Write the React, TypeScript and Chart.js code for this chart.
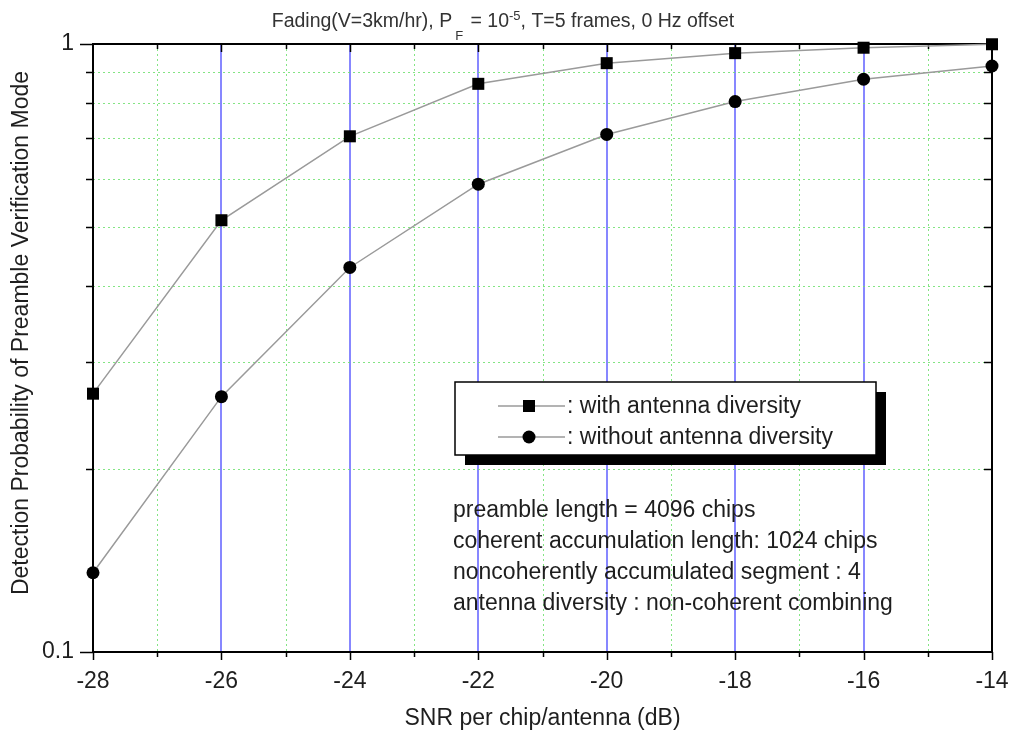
import React, { useEffect, useRef } from 'react';
import { Chart, registerables } from 'chart.js';

Chart.register(...registerables);

// ---- data ----
const snrDb = [-28, -26, -24, -22, -20, -18, -16, -14];
const withDiversity = [0.266, 0.513, 0.705, 0.86, 0.93, 0.966, 0.986, 0.999];
const withoutDiversity = [0.135, 0.263, 0.429, 0.588, 0.71, 0.804, 0.875, 0.92];
const yTickValues = [0.1, 0.2, 0.3, 0.4, 0.5, 0.6, 0.7, 0.8, 0.9, 1];
const seriesLabels = [': with antenna diversity', ': without antenna diversity'];
const noteLines = [
  'preamble length = 4096 chips',
  'coherent accumulation length: 1024 chips',
  'noncoherently accumulated segment : 4',
  'antenna diversity : non-coherent combining',
];
const xTitle = 'SNR per chip/antenna (dB)';
const yTitle = 'Detection Probability of Preamble Verification Mode';
const titleParts = [
  { t: 'Fading(V=3km/hr), P', small: false, dy: 0, gapAfter: 3 },
  { t: 'F', small: true, dy: 13, gapAfter: 2 },
  { t: ' = 10', small: false, dy: 0, gapAfter: 0 },
  { t: '-5', small: true, dy: -7, gapAfter: 0 },
  { t: ', T=5 frames, 0 Hz offset', small: false, dy: 0, gapAfter: 0 },
];
const xMin = -28;
const xMax = -14;
const yMin = 0.1;
const yMax = 1;

const FONT = "'Liberation Sans', Arial, Helvetica, sans-serif";
const BLUE = 'rgb(95,95,255)';
const GREEN = 'rgba(110,225,110,0.85)';
const LINE_GRAY = '#9a9a9a';
const TEXT = '#1e1e1e';

function seg(ctx: CanvasRenderingContext2D, x1: number, y1: number, x2: number, y2: number) {
  ctx.beginPath();
  ctx.moveTo(x1, y1);
  ctx.lineTo(x2, y2);
  ctx.stroke();
}

const isMajorY = (v: number) => Math.abs(v - 1) < 1e-9 || Math.abs(v - 0.1) < 1e-9;

const decorPlugin = {
  id: 'decor',
  beforeDatasetsDraw(chart: any) {
    const { ctx, chartArea: a, scales } = chart;
    const xs = scales.x;
    const ys = scales.y;
    ctx.save();
    // vertical grid: blue solid at even, green dotted at odd
    for (let v = xMin + 1; v < xMax; v++) {
      if (v % 2 === 0) {
        const px = Math.round(xs.getPixelForValue(v));
        ctx.strokeStyle = BLUE;
        ctx.lineWidth = 1.5;
        ctx.setLineDash([]);
        seg(ctx, px, a.top, px, a.bottom);
      } else {
        const px = Math.round(xs.getPixelForValue(v)) + 0.5;
        ctx.strokeStyle = GREEN;
        ctx.lineWidth = 1;
        ctx.setLineDash([2, 3]);
        seg(ctx, px, a.top, px, a.bottom);
      }
    }
    // horizontal dotted grid
    ctx.strokeStyle = GREEN;
    ctx.lineWidth = 1;
    ctx.setLineDash([2, 3]);
    for (const t of ys.ticks) {
      if (isMajorY(t.value)) continue;
      const py = Math.round(ys.getPixelForValue(t.value)) + 0.5;
      seg(ctx, a.left, py, a.right, py);
    }
    ctx.setLineDash([]);
    // frame
    ctx.strokeStyle = '#000';
    ctx.lineWidth = 2;
    ctx.strokeRect(a.left, a.top, a.right - a.left, a.bottom - a.top);
    // x ticks (bottom outward, top inward)
    ctx.lineWidth = 1.5;
    for (let v = xMin; v <= xMax; v++) {
      const major = v % 2 === 0;
      const px = Math.round(xs.getPixelForValue(v)) + 0.5;
      seg(ctx, px, a.bottom, px, a.bottom + (major ? 8 : 5));
      if (v > xMin && v < xMax) seg(ctx, px, a.top, px, a.top + (major ? 8 : 5));
    }
    // y ticks (left outward, right inward)
    for (const t of ys.ticks) {
      const major = isMajorY(t.value);
      const py = Math.round(ys.getPixelForValue(t.value)) + 0.5;
      seg(ctx, a.left - (major ? 13 : 7), py, a.left, py);
      if (!major) seg(ctx, a.right - 8, py, a.right, py);
    }
    ctx.restore();
  },
  afterDraw(chart: any) {
    const { ctx, chartArea: a } = chart;
    ctx.save();
    // legend box with shadow
    const bx = 455, by = 382, bw = 421, bh = 73, sh = 10;
    ctx.fillStyle = '#000';
    ctx.fillRect(bx + sh, by + sh, bw, bh);
    ctx.fillStyle = '#fff';
    ctx.fillRect(bx, by, bw, bh);
    ctx.strokeStyle = '#000';
    ctx.lineWidth = 1.5;
    ctx.strokeRect(bx, by, bw, bh);
    const rows = [406, 437];
    rows.forEach((ry, i) => {
      ctx.strokeStyle = LINE_GRAY;
      ctx.lineWidth = 1.5;
      seg(ctx, 498, ry, 565, ry);
      ctx.fillStyle = '#000';
      if (i === 0) {
        ctx.fillRect(523, ry - 6, 12, 12);
      } else {
        ctx.beginPath();
        ctx.arc(529, ry, 6.5, 0, Math.PI * 2);
        ctx.fill();
      }
      ctx.fillStyle = TEXT;
      ctx.font = `23px ${FONT}`;
      ctx.textBaseline = 'middle';
      ctx.textAlign = 'left';
      ctx.fillText(seriesLabels[i], 567, ry + 1);
    });
    // notes
    ctx.fillStyle = TEXT;
    ctx.font = `23px ${FONT}`;
    ctx.textBaseline = 'middle';
    noteLines.forEach((s, i) => ctx.fillText(s, 453, 511 + i * 31));
    // title
    ctx.fillStyle = '#333';
    ctx.textBaseline = 'alphabetic';
    let total = 0;
    const widths = titleParts.map((p) => {
      ctx.font = `${p.small ? 13 : 19.5}px ${FONT}`;
      const w = ctx.measureText(p.t).width + p.gapAfter;
      total += w;
      return w;
    });
    let tx = 503 - total / 2;
    titleParts.forEach((p, i) => {
      ctx.font = `${p.small ? 13 : 19.5}px ${FONT}`;
      ctx.fillText(p.t, tx, 27 + p.dy);
      tx += widths[i];
    });
    // axis titles
    ctx.fillStyle = TEXT;
    ctx.font = `23px ${FONT}`;
    ctx.textAlign = 'center';
    ctx.textBaseline = 'middle';
    ctx.fillText(xTitle, (a.left + a.right) / 2, 719);
    ctx.translate(22, 333);
    ctx.rotate(-Math.PI / 2);
    ctx.fillText(yTitle, 0, 0);
    ctx.restore();
  },
};

export default function App() {
  const ref = useRef<HTMLCanvasElement | null>(null);
  useEffect(() => {
    if (!ref.current) return;
    const chart = new Chart(ref.current, {
      type: 'line',
      data: {
        datasets: [
          {
            label: seriesLabels[0],
            data: snrDb.map((x, i) => ({ x, y: withDiversity[i] })),
            borderColor: LINE_GRAY,
            borderWidth: 1.5,
            pointStyle: 'rect',
            pointRadius: 8.5,
            pointBackgroundColor: '#000',
            pointBorderColor: '#000',
            pointBorderWidth: 0,
            clip: false as any,
          },
          {
            label: seriesLabels[1],
            data: snrDb.map((x, i) => ({ x, y: withoutDiversity[i] })),
            borderColor: LINE_GRAY,
            borderWidth: 1.5,
            pointStyle: 'circle',
            pointRadius: 6.5,
            pointBackgroundColor: '#000',
            pointBorderColor: '#000',
            pointBorderWidth: 0,
            clip: false as any,
          },
        ],
      },
      options: {
        responsive: false,
        animation: false,
        layout: { padding: { top: 44, right: 21, left: 0, bottom: 0 } },
        plugins: { legend: { display: false }, tooltip: { enabled: false }, title: { display: false } },
        scales: {
          x: {
            type: 'linear',
            min: xMin,
            max: xMax,
            afterFit: (s: any) => {
              s.height = 83;
              s.paddingLeft = 0;
              s.paddingRight = 0;
            },
            border: { display: false },
            grid: { display: false, drawTicks: false },
            ticks: {
              stepSize: 1,
              autoSkip: false,
              maxRotation: 0,
              padding: 16,
              color: TEXT,
              font: { family: FONT, size: 23 },
              callback: (v: any) => (Number(v) % 2 === 0 ? String(v) : ''),
            },
          },
          y: {
            type: 'logarithmic',
            min: yMin,
            max: yMax,
            afterBuildTicks: (s: any) => {
              s.ticks = yTickValues.map((v) => ({ value: v }));
            },
            afterFit: (s: any) => {
              s.width = 93;
              s.paddingTop = 0;
              s.paddingBottom = 0;
            },
            border: { display: false },
            grid: { display: false, drawTicks: false },
            ticks: {
              autoSkip: false,
              padding: 19,
              color: TEXT,
              font: { family: FONT, size: 23 },
              callback: (v: any) => {
                const n = Number(v);
                if (Math.abs(n - 1) < 1e-9) return '1';
                if (Math.abs(n - 0.1) < 1e-9) return '0.1';
                return '';
              },
            },
          },
        },
      },
      plugins: [decorPlugin],
    });
    return () => chart.destroy();
  }, []);
  return (
    <div style={{ position: 'absolute', left: 0, top: 0, width: 1013, height: 735, background: '#fff' }}>
      <canvas ref={ref} width={1013} height={735} style={{ display: 'block' }} />
    </div>
  );
}
